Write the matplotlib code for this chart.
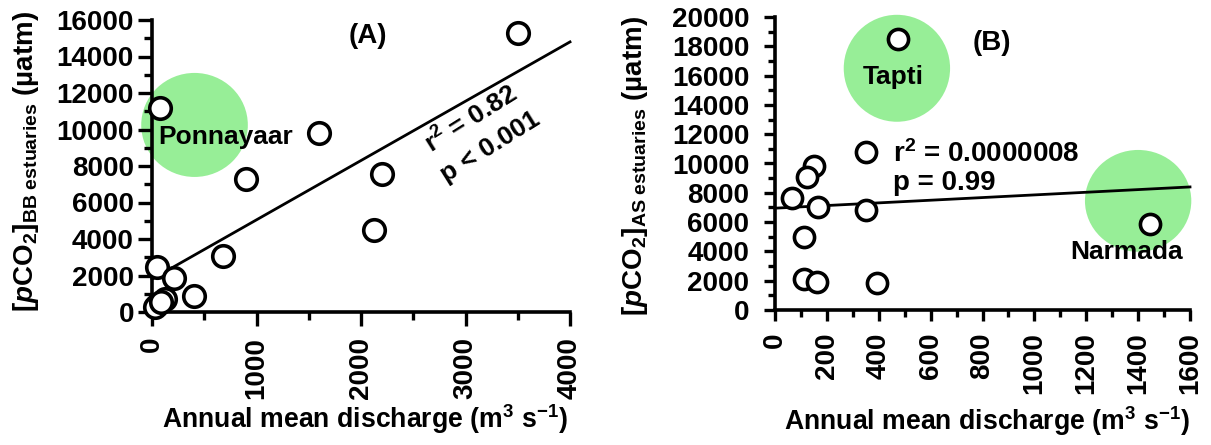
import matplotlib
matplotlib.use("Agg")
import matplotlib.pyplot as plt
from matplotlib.patches import Ellipse
from matplotlib.ticker import MultipleLocator
import numpy as np

# ---------------- data ----------------
A_discharge = [3500, 75, 1600, 900, 2200, 2120, 680, 50, 210, 400, 120, 50, 30, 90]
A_pco2 = [15300, 11200, 9800, 7300, 7550, 4500, 3050, 2450, 1850, 900, 700, 400, 300, 550]
A_fit_intercept = 1800
A_fit_slope = 3.25
A_xlim = (0, 4000)
A_ylim = (0, 16000)

B_discharge = [475, 350, 150, 125, 65, 165, 350, 110, 110, 160, 395, 1445]
B_pco2 = [18500, 10800, 9850, 9100, 7650, 7000, 6800, 5000, 2100, 1900, 1850, 5900]
B_fit_intercept = 6950
B_fit_slope = 0.906
B_xlim = (0, 1600)
B_ylim = (0, 20000)

# highlighted estuaries: (label, center x, center y, width, height, text x, text y)
A_highlight = [("Ponnayaar", 407, 10250, 1020, 5700, 60, 9600)]
B_highlight = [("Tapti", 470, 16500, 410, 7300, 455, 15900),
               ("Narmada", 1400, 7450, 410, 6950, 1355, 3950)]

xlabel_text = r"Annual mean discharge (m$^3$ s$^{-1}$)"
A_ylabel = r"[$p$CO$_2$]$_{\mathsf{BB\ estuaries}}$ (µatm)"
B_ylabel = r"[$p$CO$_2$]$_{\mathsf{AS\ estuaries}}$ (µatm)"

# ---------------- style ----------------
plt.rcParams['font.family'] = ['Liberation Sans', 'DejaVu Sans']
plt.rcParams['font.weight'] = 'bold'
plt.rcParams['mathtext.fontset'] = 'custom'
plt.rcParams['mathtext.rm'] = 'Liberation Sans:bold'
plt.rcParams['mathtext.it'] = 'Liberation Sans:bold:italic'
plt.rcParams['mathtext.bf'] = 'Liberation Sans:bold'
plt.rcParams['mathtext.sf'] = 'Liberation Sans'

GREEN = '#97EE97'
FS = 20

fig = plt.figure(figsize=(12.11, 4.45), dpi=100)
axA = fig.add_axes([152/1211, 1-312/445, (570-152)/1211, (312-20)/445])
axB = fig.add_axes([775/1211, 1-310/445, (1190-775)/1211, (310-17)/445])


def style_axes(ax, xmajor, xminor, ymajor, yminor, ticklen, ypad):
    for s in ['top', 'right']:
        ax.spines[s].set_visible(False)
    for s in ['left', 'bottom']:
        ax.spines[s].set_linewidth(2.6)
    ax.xaxis.set_major_locator(MultipleLocator(xmajor))
    ax.xaxis.set_minor_locator(MultipleLocator(xminor))
    ax.yaxis.set_major_locator(MultipleLocator(ymajor))
    ax.yaxis.set_minor_locator(MultipleLocator(yminor))
    ax.tick_params(which='major', direction='out', length=ticklen, width=2.4,
                   labelsize=FS)
    ax.tick_params(which='minor', direction='out', length=ticklen*0.6, width=2.4)
    ax.tick_params(axis='y', which='major', pad=ypad)
    ax.tick_params(axis='x', which='major', pad=8)
    for lab in ax.get_xticklabels():
        lab.set_rotation(90)
        lab.set_fontweight('bold')
    for lab in ax.get_yticklabels():
        lab.set_fontweight('bold')


# ---------------- panel A ----------------
axA.set_xlim(*A_xlim)
axA.set_ylim(*A_ylim)
style_axes(axA, 1000, 500, 2000, 1000, 10, 3)
for name, cx, cy, w, h, tx, ty in A_highlight:
    axA.add_patch(Ellipse((cx, cy), w, h, facecolor=GREEN, edgecolor='none',
                          zorder=1, clip_on=False))
    axA.text(tx, ty, name, fontsize=FS-1, fontweight='bold', ha='left',
             va='center', zorder=5)
fx = np.array(A_xlim, dtype=float)
axA.plot(fx, A_fit_intercept + A_fit_slope*fx, color='black', lw=2.0, zorder=2,
         clip_on=False)
axA.plot(A_discharge, A_pco2, 'o', ms=15.5, mfc='white', mec='black', mew=2.6,
         zorder=3, clip_on=False)
axA.text(2070, 15100, "(A)", fontsize=FS, fontweight='bold', ha='center',
         va='center')
axA.text(2700, 8400, r"r$^2$ = 0.82", fontsize=FS-1, fontweight='bold',
         rotation=32, ha='left', va='bottom', rotation_mode='anchor')
axA.text(2840, 6850, "p < 0.001", fontsize=FS-1, fontweight='bold',
         rotation=32, ha='left', va='bottom', rotation_mode='anchor')
axA.set_xlabel(xlabel_text, fontsize=FS-0.8, fontweight='bold')
axA.xaxis.set_label_coords(0.51, -0.31)
axA.set_ylabel(A_ylabel, fontsize=FS, fontweight='bold')
axA.yaxis.set_label_coords(-0.265, 0.515)

# ---------------- panel B ----------------
axB.set_xlim(*B_xlim)
axB.set_ylim(*B_ylim)
style_axes(axB, 200, 100, 2000, 1000, 8, 10.5)
for name, cx, cy, w, h, tx, ty in B_highlight:
    axB.add_patch(Ellipse((cx, cy), w, h, facecolor=GREEN, edgecolor='none',
                          zorder=1, clip_on=False))
    axB.text(tx, ty, name, fontsize=FS-1, fontweight='bold', ha='center',
             va='center', zorder=5)
fx = np.array(B_xlim, dtype=float)
axB.plot(fx, B_fit_intercept + B_fit_slope*fx, color='black', lw=2.0, zorder=2,
         clip_on=False)
axB.plot(B_discharge, B_pco2, 'o', ms=14.5, mfc='white', mec='black', mew=2.6,
         zorder=3, clip_on=False)
axB.text(835, 18200, "(B)", fontsize=FS, fontweight='bold', ha='center',
         va='center')
axB.text(455, 10650, r"r$^2$ = 0.0000008", fontsize=FS, fontweight='bold',
         ha='left', va='center')
axB.text(455, 8650, "p = 0.99", fontsize=FS, fontweight='bold',
         ha='left', va='center')
axB.set_xlabel(xlabel_text, fontsize=FS-0.8, fontweight='bold')
axB.xaxis.set_label_coords(0.51, -0.32)
axB.set_ylabel(B_ylabel, fontsize=FS, fontweight='bold')
axB.yaxis.set_label_coords(-0.30, 0.49)

fig.savefig("out.png", dpi=100)
